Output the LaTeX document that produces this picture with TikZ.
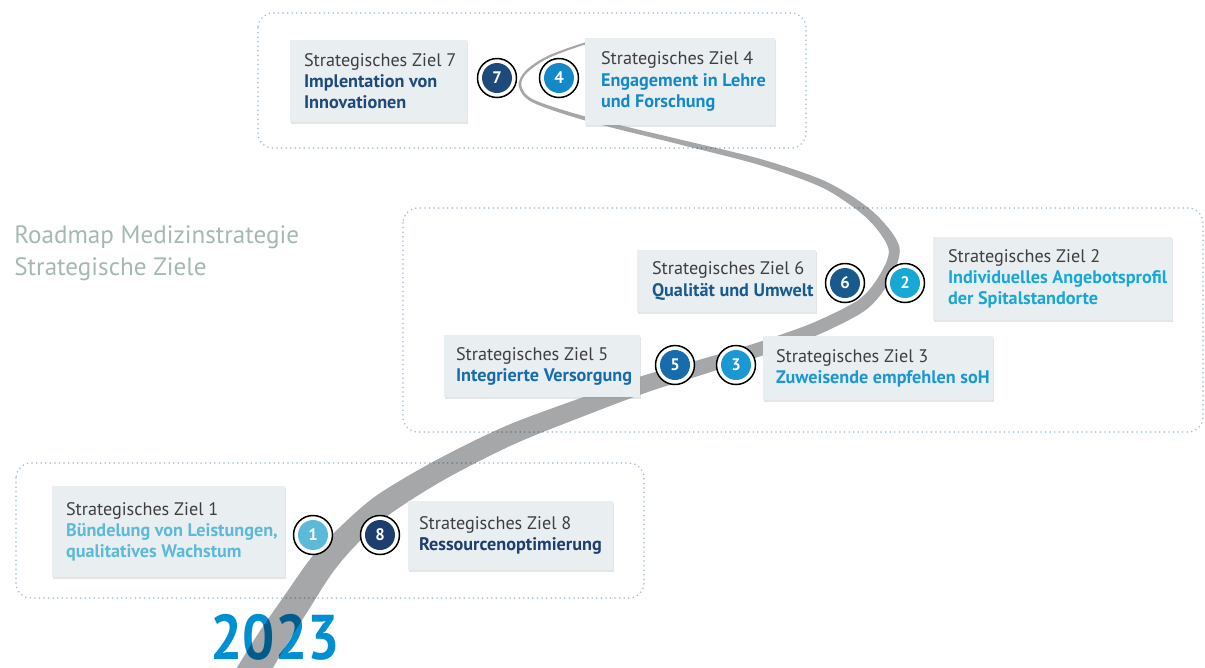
\documentclass[tikz,border=0pt]{standalone}
\usepackage{fontspec}
\setmainfont{PT Sans}
\usepackage{tikz}
\usetikzlibrary{positioning}
\usetikzlibrary{shadows}

\definecolor{ziel1}{RGB}{92,185,215}
\definecolor{ziel2}{RGB}{24,168,214}
\definecolor{ziel3}{RGB}{26,152,212}
\definecolor{ziel4}{RGB}{20,137,200}
\definecolor{ziel5}{RGB}{22,108,172}
\definecolor{ziel6}{RGB}{24,90,142}
\definecolor{ziel7}{RGB}{29,74,122}
\definecolor{ziel8}{RGB}{30,63,110}
\definecolor{boxgrau}{RGB}{233,238,241}
\definecolor{textgrau}{RGB}{62,62,62}
\definecolor{titelgrau}{RGB}{165,185,178}
\definecolor{rahmenblau}{RGB}{160,190,212}
\definecolor{strassengrau}{RGB}{165,167,169}
\definecolor{jahrblau}{RGB}{0,143,210}

\newcommand{\kopf}[2]{\textcolor{#1}{\bfseries #2}}

\tikzset{
  rahmen/.style={draw=rahmenblau, line width=1pt, dash pattern=on 0pt off 2.6pt,
    line cap=round, rounded corners=0.3cm},
  zielbox/.style={rectangle, fill=boxgrau, inner sep=0pt,
    drop shadow={shadow xshift=0.5pt, shadow yshift=-1.4pt, fill=black!40, opacity=0.25}},
  zieltext/.style={align=left, inner sep=0pt, text=textgrau,
    font=\fontsize{10.35}{12}\selectfont},
  punkt/.style={circle, draw=black, line width=0.85pt, fill=white,
    minimum size=0.78cm, inner sep=0pt, text=white,
    font=\fontsize{9.5}{9.5}\selectfont\bfseries,
    path picture={\fill[#1] (path picture bounding box.center) circle (0.3cm);}},
}

\begin{document}
\begin{tikzpicture}[x=0.02cm, y=-0.02cm]
  \useasboundingbox (0,0) rectangle (1205,667);

  % Frames
  \draw[rahmen] (258,13)  rectangle (806,148);
  \draw[rahmen] (403,208) rectangle (1203,432);
  \draw[rahmen] (16,463)  rectangle (644,598);

  % Title
  \node[anchor=west, align=left, inner sep=0pt, text=titelgrau,
        font=\fontsize{14.3}{18}\selectfont] (titel) at (14,253)
    {Roadmap Medizinstrategie\\Strategische Ziele};

  % Year
  \node[anchor=base, inner sep=0pt, text=jahrblau,
        font=\fontsize{36}{36}\selectfont\bfseries] (jahr) at (275,659)
    {\scalebox{0.9}[1]{2023}};

  % Road
  \fill[strassengrau, blend mode=multiply]
    plot[smooth, tension=0.5] coordinates {
      (611.9,39.0) (586.7,42.0) (547.5,56.0) (525.1,71.2) (518.7,86.3)
      (532.3,102.3) (586.5,120.9) (679.4,144.4) (759.1,164.9) (823.5,188.2)
      (867.0,218.3) (888.6,249.2) (878.9,276.2) (858.4,299.9) (812.4,323.0)
      (757.8,342.4) (702.9,358.8) (642.3,375.9) (581.8,397.6) (506.0,425.9)
      (434.9,460.8) (376.3,495.7) (338.6,528.4) (311.7,557.1) (285.4,594.2)
      (257.3,635.0) (231.3,676.8)}
    -- plot[smooth, tension=0.5] coordinates {
      (258.7,693.2) (282.7,651.0) (308.6,609.8) (332.3,572.9) (355.4,545.6)
      (389.7,514.3) (445.1,479.2) (514.0,444.2) (588.2,414.4) (647.7,392.1)
      (707.1,373.2) (762.2,355.6) (817.6,335.0) (865.6,310.1) (889.1,281.8)
      (899.4,246.8) (873.0,211.7) (826.5,181.8) (760.9,159.1) (680.6,139.6)
      (587.5,117.1) (533.7,99.7) (521.3,85.7) (526.9,72.8) (548.5,58.0)
      (587.3,44.0) (612.1,41.0)}
    -- cycle;

  % Boxes
  \node[zielbox, minimum width=3.54cm, minimum height=1.64cm] (box7) at (378.5,81) {};
  \node[zielbox, minimum width=3.80cm, minimum height=1.74cm] (box4) at (680,81.5) {};
  \node[zielbox, minimum width=3.58cm, minimum height=1.24cm] (box6) at (726.5,281) {};
  \node[zielbox, minimum width=4.78cm, minimum height=1.66cm] (box2) at (1052.5,278.5) {};
  \node[zielbox, minimum width=3.92cm, minimum height=1.24cm] (box5) at (542,366) {};
  \node[zielbox, minimum width=4.60cm, minimum height=1.28cm] (box3) at (878,368) {};
  \node[zielbox, minimum width=4.66cm, minimum height=1.82cm] (box1) at (168.5,531.5) {};
  \node[zielbox, minimum width=4.10cm, minimum height=1.38cm] (box8) at (510.5,535.5) {};

  % Texts
  \node[zieltext, right=0.28cm of box7.west] (text7)
    {Strategisches Ziel 7\\\kopf{ziel7}{Implentation von}\\\kopf{ziel7}{Innovationen}};
  \node[zieltext, right=0.32cm of box4.west] (text4)
    {Strategisches Ziel 4\\\kopf{ziel4}{Engagement in Lehre}\\\kopf{ziel4}{und Forschung}};
  \node[zieltext, right=0.30cm of box6.west] (text6)
    {Strategisches Ziel 6\\\kopf{ziel6}{Qualität und Umwelt}};
  \node[zieltext, right=0.30cm of box2.west] (text2)
    {Strategisches Ziel 2\\\kopf{ziel2}{Individuelles Angebotsprofil}\\\kopf{ziel2}{der Spitalstandorte}};
  \node[zieltext, right=0.24cm of box5.west] (text5)
    {Strategisches Ziel 5\\\kopf{ziel5}{Integrierte Versorgung}};
  \node[zieltext, right=0.26cm of box3.west] (text3)
    {Strategisches Ziel 3\\\kopf{ziel3}{Zuweisende empfehlen soH}};
  \node[zieltext, right=0.28cm of box1.west] (text1)
    {Strategisches Ziel 1\\\kopf{ziel1}{Bündelung von Leistungen,}\\\kopf{ziel1}{qualitatives Wachstum}};
  \node[zieltext, right=0.22cm of box8.west] (text8)
    {Strategisches Ziel 8\\\kopf{ziel8}{Ressourcenoptimierung}};

  % Milestones
  \node[punkt=ziel7] (p7) at (497,78)  {7};
  \node[punkt=ziel4] (p4) at (559,78)  {4};
  \node[punkt=ziel6] (p6) at (845,283) {6};
  \node[punkt=ziel2] (p2) at (905,283) {2};
  \node[punkt=ziel5] (p5) at (675,365) {5};
  \node[punkt=ziel3] (p3) at (736,365) {3};
  \node[punkt=ziel1] (p1) at (313,535) {1};
  \node[punkt=ziel8] (p8) at (380,535) {8};
\end{tikzpicture}
\end{document}
